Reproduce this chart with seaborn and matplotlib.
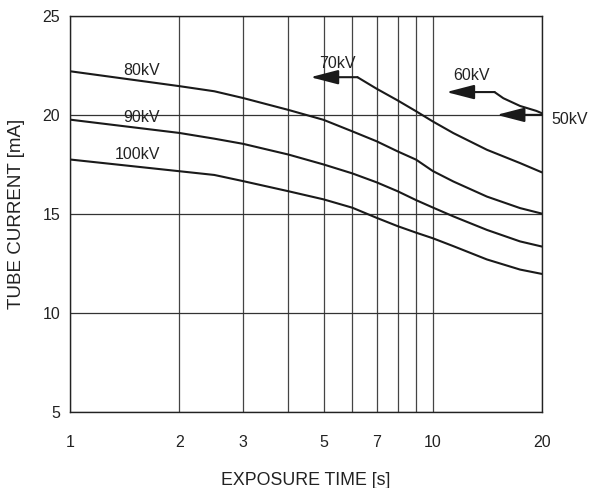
import numpy as np
import pandas as pd
import seaborn as sns
import matplotlib
matplotlib.use('Agg')
import matplotlib.pyplot as plt
from matplotlib.ticker import FixedLocator, FixedFormatter, NullLocator

# === data ===
t80 = [1, 2, 2.5, 3, 4, 5, 6, 7, 8, 9, 10, 11.4, 14.1, 17.4, 20]
ma80 = [22.2, 21.45, 21.19, 20.85, 20.25, 19.75, 19.17, 18.67, 18.16, 17.74, 17.17,
        16.64, 15.88, 15.3, 15.02]

t90 = [1, 2, 2.5, 3, 3.5, 4, 5, 6, 7, 8, 9, 10, 11.4, 14.1, 17.4, 20]
ma90 = [19.76, 19.09, 18.8, 18.54, 18.25, 18.0, 17.5, 17.05, 16.6, 16.15, 15.7, 15.33,
        14.88, 14.2, 13.62, 13.36]

t100 = [1, 2, 2.5, 3, 4, 5, 6, 7, 8, 9, 10, 11.4, 14.1, 17.4, 20]
ma100 = [17.75, 17.16, 16.97, 16.66, 16.15, 15.74, 15.32, 14.81, 14.39, 14.06, 13.78,
         13.38, 12.71, 12.2, 11.98]

t70 = [6.2, 7, 8, 9, 10, 11.4, 14.1, 17.4, 20]
ma70 = [21.9, 21.32, 20.73, 20.18, 19.67, 19.08, 18.24, 17.57, 17.1]

t60 = [14.8, 15.65, 17.4, 19.3, 20]
ma60 = [21.15, 20.84, 20.45, 20.2, 20.08]

# arrows: (start t, end t, current)
arrow_t0 = [6.2, 14.8, 20]
arrow_t1 = [4.6, 10.9, 15.0]
arrow_ma = [21.9, 21.15, 20.0]

# curve labels
label_text = ['80kV', '90kV', '100kV', '70kV', '60kV', '50kV']
label_t = [1.58, 1.57, 1.53, 5.45, 12.8, 23.9]
label_ma = [22.26, 19.85, 17.98, 22.6, 22.0, 19.75]

x_grid = [1, 2, 3, 4, 5, 6, 7, 8, 9, 10, 20]
x_ticklabels = ['1', '2', '3', '', '5', '', '7', '', '', '10', '20']
y_ticks = [5, 10, 15, 20, 25]

rows = []
for name, ts, ms in [('80kV', t80, ma80), ('90kV', t90, ma90), ('100kV', t100, ma100),
                     ('70kV', t70, ma70), ('60kV', t60, ma60)]:
    for t, m in zip(ts, ms):
        rows.append({'kv': name, 'time': t, 'current': m})
df = pd.DataFrame(rows)

sns.set_theme(style='white')
plt.rcParams['font.family'] = ['Liberation Sans', 'DejaVu Sans']

fig = plt.figure(figsize=(5.92, 4.88), dpi=100)
ax = fig.add_axes([0.1182, 0.155, 0.7973, 0.8128])

sns.lineplot(data=df, x='time', y='current', units='kv', estimator=None,
             color='#1a1a1a', lw=1.5, sort=False, ax=ax, legend=False)

for t0, t1, m in zip(arrow_t0, arrow_t1, arrow_ma):
    ax.annotate('', xy=(t1, m), xytext=(t0, m),
                arrowprops=dict(arrowstyle='-|>,head_length=0.85,head_width=0.22',
                                mutation_scale=20, lw=1.5, color='#1a1a1a',
                                shrinkA=0, shrinkB=0))

for s, t, m in zip(label_text, label_t, label_ma):
    ax.text(t, m, s, fontsize=11.5, ha='center', va='center', color='#222222',
            clip_on=False)

ax.set_xscale('log')
ax.set_xlim(1, 20)
ax.set_ylim(5, 25)
ax.xaxis.set_major_locator(FixedLocator(x_grid))
ax.xaxis.set_major_formatter(FixedFormatter(x_ticklabels))
ax.xaxis.set_minor_locator(NullLocator())
ax.set_yticks(y_ticks)

ax.grid(True, axis='x', color='#444444', lw=0.9)
ax.grid(True, axis='y', color='#333333', lw=0.9)
ax.tick_params(axis='x', length=0, pad=16, labelsize=11.5, colors='#222222')
ax.tick_params(axis='y', length=0, pad=7, labelsize=11.5, colors='#222222')
for sp in ax.spines.values():
    sp.set_color('#222222')
    sp.set_linewidth(1.0)

ax.set_xlabel('EXPOSURE TIME [s]', fontsize=12.8, color='#222222')
ax.set_ylabel('TUBE CURRENT [mA]', fontsize=13.5, color='#222222')
ax.xaxis.set_label_coords(0.5, -0.15)
ax.yaxis.set_label_coords(-0.095, 0.5)

plt.savefig('out.png', dpi=100)
